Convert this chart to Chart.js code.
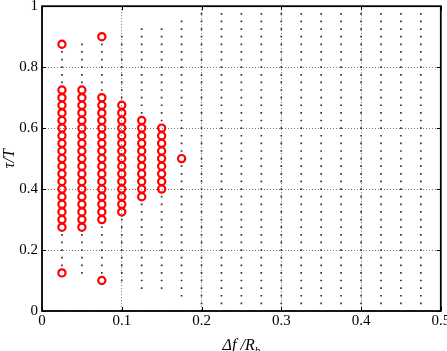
<!DOCTYPE html>
<html>
<head>
<meta charset="utf-8">
<script src="https://cdn.jsdelivr.net/npm/chart.js@4.4.1/dist/chart.umd.min.js"></script>
<style>
  html, body { margin: 0; padding: 0; background: #fff; overflow: hidden; }
  canvas { display: block; }
</style>
</head>
<body>
<canvas id="grafico" width="447" height="351"></canvas>
<script>
// grid of tested points: one column per frequency offset
const colunasX = [0.025, 0.05, 0.075, 0.1, 0.125, 0.15, 0.175, 0.2, 0.225, 0.25,
                  0.275, 0.3, 0.325, 0.35, 0.375, 0.4, 0.425, 0.45, 0.475];
const colunasMin = [0.125, 0.125, 0.1, 0.1, 0.075, 0.075, 0.05, 0.025, 0.025, 0.025,
                    0.025, 0.025, 0.025, 0.025, 0.025, 0.025, 0.025, 0.025, 0.025];
const colunasMax = [0.875, 0.875, 0.9, 0.9, 0.925, 0.925, 0.95, 0.975, 0.975, 0.975,
                    0.975, 0.975, 0.975, 0.975, 0.975, 0.975, 0.975, 0.975, 0.975];
const passoY = 0.025;

// red circles: continuous runs per column plus isolated points
const vermelhoX = [0.025, 0.05, 0.075, 0.1, 0.125, 0.15];
const vermelhoMin = [0.275, 0.275, 0.3, 0.325, 0.375, 0.4];
const vermelhoMax = [0.725, 0.725, 0.7, 0.675, 0.625, 0.6];
const isoladosX = [0.025, 0.025, 0.075, 0.075, 0.175];
const isoladosY = [0.875, 0.125, 0.9, 0.1, 0.5];

const ticksX = [0, 0.1, 0.2, 0.3, 0.4, 0.5];
const ticksY = [0, 0.2, 0.4, 0.6, 0.8, 1];

const fonte = 'Liberation Serif';

function chave(x, y) {
    return Math.round(x * 1000) + '_' + Math.round(y * 1000);
}

const pontosVermelhos = [];
vermelhoX.forEach((x, i) => {
    const ini = Math.round(vermelhoMin[i] / passoY);
    const fim = Math.round(vermelhoMax[i] / passoY);
    for (let k = ini; k <= fim; k++) pontosVermelhos.push({ x: x, y: k * passoY });
});
isoladosX.forEach((x, i) => pontosVermelhos.push({ x: x, y: isoladosY[i] }));

const usados = new Set(pontosVermelhos.map(p => chave(p.x, p.y)));
const pontosPretos = [];
colunasX.forEach((x, i) => {
    const ini = Math.round(colunasMin[i] / passoY);
    const fim = Math.round(colunasMax[i] / passoY);
    for (let k = ini; k <= fim; k++) {
        const y = k * passoY;
        if (!usados.has(chave(x, y))) pontosPretos.push({ x: x, y: y });
    }
});

// box frame, inward ticks and x label with subscript
const molduraPlugin = {
    id: 'moldura',
    afterDraw(chart) {
        const ctx = chart.ctx;
        const a = chart.chartArea;
        const sx = chart.scales.x;
        const sy = chart.scales.y;
        ctx.save();
        ctx.strokeStyle = '#000';
        ctx.lineWidth = 1;
        ctx.beginPath();
        ticksX.forEach(v => {
            const px = Math.round(sx.getPixelForValue(v)) + 0.5;
            ctx.moveTo(px, a.bottom); ctx.lineTo(px, a.bottom - 4);
            ctx.moveTo(px, a.top); ctx.lineTo(px, a.top + 4);
        });
        ticksY.forEach(v => {
            const py = Math.round(sy.getPixelForValue(v)) + 0.5;
            ctx.moveTo(a.left, py); ctx.lineTo(a.left + 4, py);
            ctx.moveTo(a.right, py); ctx.lineTo(a.right - 4, py);
        });
        ctx.stroke();
        ctx.lineWidth = 1.8;
        ctx.strokeRect(a.left, a.top, a.right - a.left, a.bottom - a.top);

        const cx = (a.left + a.right) / 2;
        ctx.fillStyle = '#000';
        ctx.textBaseline = 'alphabetic';
        ctx.font = 'italic 16px "' + fonte + '"';
        const principal = 'Δf /R';
        const w1 = ctx.measureText(principal).width;
        ctx.font = 'italic 11px "' + fonte + '"';
        const w2 = ctx.measureText('b').width;
        const x0 = cx - (w1 + w2) / 2;
        ctx.font = 'italic 16px "' + fonte + '"';
        ctx.textAlign = 'left';
        ctx.fillText(principal, x0, 350);
        ctx.font = 'italic 11px "' + fonte + '"';
        ctx.fillText('b', x0 + w1, 354);
        ctx.restore();
    }
};

new Chart(document.getElementById('grafico').getContext('2d'), {
    type: 'scatter',
    data: {
        datasets: [
            {
                label: 'sucesso',
                data: pontosVermelhos,
                pointStyle: 'circle',
                pointRadius: 3.6,
                pointBorderWidth: 2.2,
                pointBorderColor: '#ff0000',
                pointBackgroundColor: 'rgba(255,255,255,0)',
            },
            {
                label: 'testados',
                data: pontosPretos,
                pointStyle: 'rect',
                pointRadius: 1.2,
                pointBorderWidth: 0,
                pointBackgroundColor: '#333',
                pointBorderColor: '#333',
            },
        ],
    },
    options: {
        responsive: false,
        animation: false,
        events: [],
        layout: { padding: { top: 5, right: 6, left: 0, bottom: 0 } },
        plugins: {
            legend: { display: false },
            tooltip: { enabled: false },
        },
        scales: {
            x: {
                type: 'linear',
                min: 0,
                max: 0.5,
                afterBuildTicks: s => { s.ticks = ticksX.map(v => ({ value: v })); },
                afterFit: s => { s.height = 40; s.paddingLeft = 0; s.paddingRight = 0; },
                ticks: {
                    padding: 1,
                    color: '#000',
                    maxRotation: 0,
                    font: { family: fonte, size: 15 },
                    callback: v => String(v),
                },
                grid: {
                    color: '#777',
                    lineWidth: 1,
                    drawTicks: false,
                },
                border: { display: false, dash: [1, 2] },
            },
            y: {
                type: 'linear',
                min: 0,
                max: 1,
                afterBuildTicks: s => { s.ticks = ticksY.map(v => ({ value: v })); },
                afterFit: s => { s.width = 42; s.paddingTop = 0; s.paddingBottom = 0; },
                ticks: {
                    padding: 4,
                    color: '#000',
                    font: { family: fonte, size: 15 },
                    callback: v => String(v),
                },
                grid: {
                    color: '#777',
                    lineWidth: 1,
                    drawTicks: false,
                },
                border: { display: false, dash: [1, 2] },
                title: {
                    display: true,
                    text: 'τ/T',
                    color: '#000',
                    padding: { top: 0, bottom: 0 },
                    font: { family: fonte, size: 16, style: 'italic' },
                },
            },
        },
    },
    plugins: [molduraPlugin],
});
</script>
</body>
</html>
